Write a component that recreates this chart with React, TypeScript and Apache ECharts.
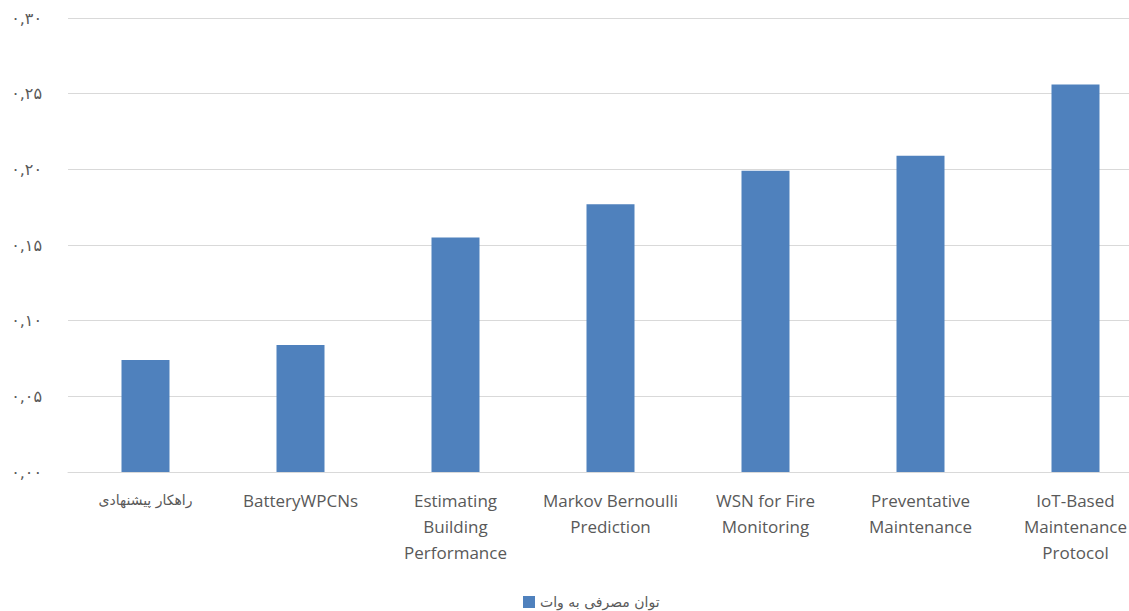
import React, { useEffect, useRef } from "react";
import * as echarts from "echarts";

const categories = [
  "راهکار پیشنهادی",
  "BatteryWPCNs",
  "Estimating\nBuilding\nPerformance",
  "Markov Bernoulli\nPrediction",
  "WSN for Fire\nMonitoring",
  "Preventative\nMaintenance",
  "IoT-Based\nMaintenance\nProtocol",
];
const values = [0.074, 0.084, 0.155, 0.177, 0.199, 0.209, 0.256];
const seriesName = "توان مصرفی به وات";
const persianDigits = ["۰", "۱", "۲", "۳", "۴", "۵", "۶", "۷", "۸", "۹"];

function toPersian(v: number): string {
  const s = v.toFixed(2).replace(".", ",");
  return s.replace(/[0-9]/g, (d) => persianDigits[Number(d)]);
}

export default function App() {
  const ref = useRef<HTMLDivElement>(null);
  useEffect(() => {
    if (!ref.current) return;
    const chart = echarts.init(ref.current, undefined, { renderer: "svg" });
    const font = "'Open Sans', 'DejaVu Sans', sans-serif";
    chart.setOption({
      animation: false,
      textStyle: { fontFamily: font },
      grid: { left: 68, top: 18, width: 1085, height: 454, containLabel: false },
      legend: {
        bottom: -3,
        left: 518,
        itemWidth: 12,
        itemHeight: 12,
        icon: "rect",
        itemGap: 4,
        textStyle: { color: "#595959", fontSize: 14, fontFamily: "'DejaVu Sans', sans-serif" },
        data: [seriesName],
      },
      xAxis: {
        type: "category",
        data: categories,
        axisLine: { lineStyle: { color: "#D9D9D9", width: 1 } },
        axisTick: { show: false },
        axisLabel: {
          color: "#595959",
          fontSize: 17,
          lineHeight: 26,
          margin: 15,
          interval: 0,
          fontFamily: font,
          formatter: (v: string) => (/^[A-Za-z]/.test(v) ? v : "{fa|" + v + "}"),
          rich: {
            fa: {
              fontSize: 14,
              color: "#595959",
              fontFamily: "'DejaVu Sans', sans-serif",
              lineHeight: 26,
            },
          },
        },
      },
      yAxis: {
        type: "value",
        min: 0,
        max: 0.3,
        interval: 0.05,
        axisLine: { show: false },
        axisTick: { show: false },
        splitLine: { lineStyle: { color: "#D9D9D9", width: 1 } },
        axisLabel: {
          color: "#595959",
          fontSize: 16,
          margin: 26,
          fontFamily: "'DejaVu Sans', sans-serif",
          formatter: (v: number) => toPersian(v),
        },
      },
      series: [
        {
          name: seriesName,
          type: "bar",
          data: values,
          barWidth: 48,
          itemStyle: { color: "#4F81BD" },
        },
      ],
    });
    return () => chart.dispose();
  }, []);
  return (
    <div
      ref={ref}
      style={{ position: "absolute", left: 0, top: 0, width: 1160, height: 611 }}
    />
  );
}
